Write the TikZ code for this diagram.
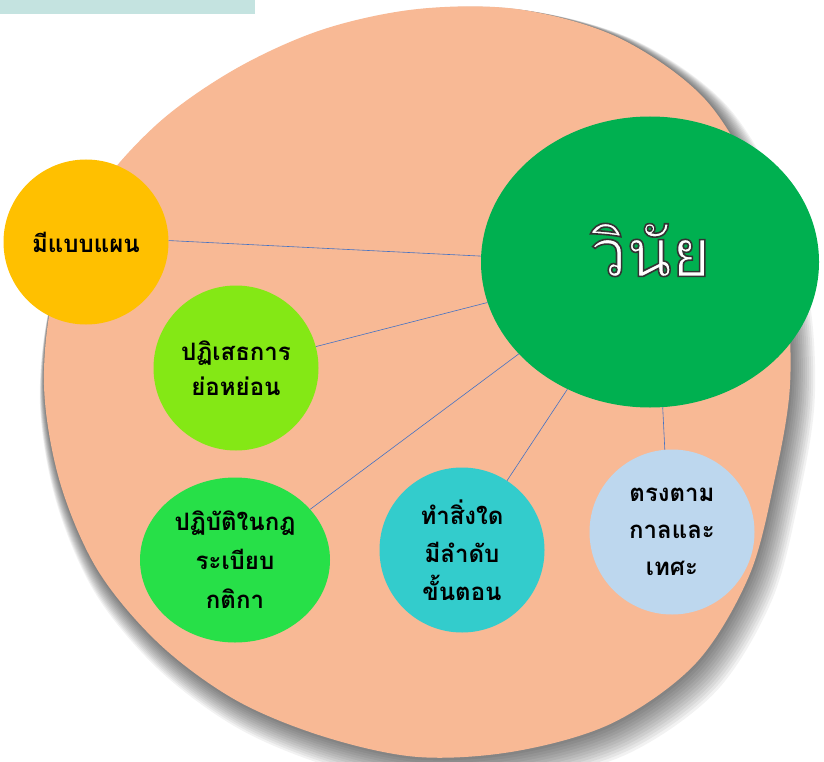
\documentclass[tikz,border=0pt]{standalone}
\usepackage{fontspec}
\newfontfamily\thai[Script=Thai]{Loma}
\usetikzlibrary{shapes.geometric}
\definecolor{salmon}{HTML}{F8B995}
\definecolor{cyellow}{HTML}{FFC000}
\definecolor{clime}{HTML}{84E815}
\definecolor{cgreen}{HTML}{27E048}
\definecolor{cteal}{HTML}{33CCCC}
\definecolor{cblue}{HTML}{BDD7EE}
\definecolor{cbig}{HTML}{00B050}
\definecolor{cbar}{HTML}{C4E3E0}
\definecolor{clink}{HTML}{4472C4}
\def\blobpath{plot[smooth cycle, tension=0.55] coordinates {(418,9) (518.7,9.3) (618.5,37.7) (704.4,98.6) (758.3,188.5) (785,286.7) (790,385) (774.4,480.5) (749,576) (696,663) (613,722.7) (516.1,751.1) (418,757) (323.8,736.6) (236,700.2) (159.2,643.8) (97.6,570) (59.6,481) (44,385) (54.8,287.7) (93.2,197.5) (157.1,124.1) (235.5,68.9) (322.8,29.5)}}
\begin{document}
\begin{tikzpicture}[x=1pt,y=-1pt,
  bubble/.style={circle, minimum size=165pt, inner sep=0pt, align=center,
    font=\thai\bfseries\fontsize{24}{37}\selectfont, text=black},
  link/.style={draw=clink, line width=0.6pt},
  bigtext/.style={inner sep=0pt, font=\thai\fontsize{66}{66}\selectfont}]
\useasboundingbox (0,0) rectangle (824,762);
\fill[white] (0,0) rectangle (824,762);
% top bar
\fill[cbar] (0,0) rectangle (255,14);
% soft shadow of the blob
\foreach \t in {0.08,0.16,...,1.0}{
  \begin{scope}[shift={(6*\t,8*\t)}, shift={(300,150)}, scale={1+0.04*\t}, shift={(-300,-150)}]
    \fill[black, opacity=0.05] \blobpath;
  \end{scope}
}
% blob
\fill[salmon] \blobpath;
% nodes
\node[ellipse, fill=cbig, minimum width=338pt, minimum height=291pt, inner sep=0pt] (main) at (650,262) {};
\node[bubble, fill=cyellow] (plan) at (86,242) {มีแบบแผน};
\node[bubble, fill=clime, font=\thai\bfseries\fontsize{24}{35}\selectfont] (reject) at (236,368) {ปฏิเสธการ\\ย่อหย่อน};
\node[bubble, ellipse, fill=cgreen, minimum width=190pt, minimum height=165pt, font=\thai\bfseries\fontsize{24}{39}\selectfont] (rules) at (235,560) {ปฏิบัติในกฎ\\ระเบียบ\\กติกา};
\node[bubble, fill=cteal, font=\thai\bfseries\fontsize{24}{38}\selectfont] (order) at (462,550) {ทำสิ่งใด\\มีลำดับ\\ขั้นตอน};
\node[bubble, fill=cblue, font=\thai\bfseries\fontsize{24}{37}\selectfont] (time) at (672,532) {ตรงตาม\\กาลและ\\เทศะ};
% connectors
\draw[link] (plan.1) -- (main.178);
\draw[link] (reject.15) -- (main.194);
\draw[link] (rules.34.7) -- (main.215.6);
\draw[link] (order.57) -- (main.237);
\draw[link] (time.95) -- (main.275);
% title text, white with a dark outline
\node[bigtext] (wtext) at (650,250) {\color{white}\special{pdf:literal direct 2 Tr 1.6 w 0.2 G}วินัย\special{pdf:literal direct 0 Tr}};
\end{tikzpicture}
\end{document}
